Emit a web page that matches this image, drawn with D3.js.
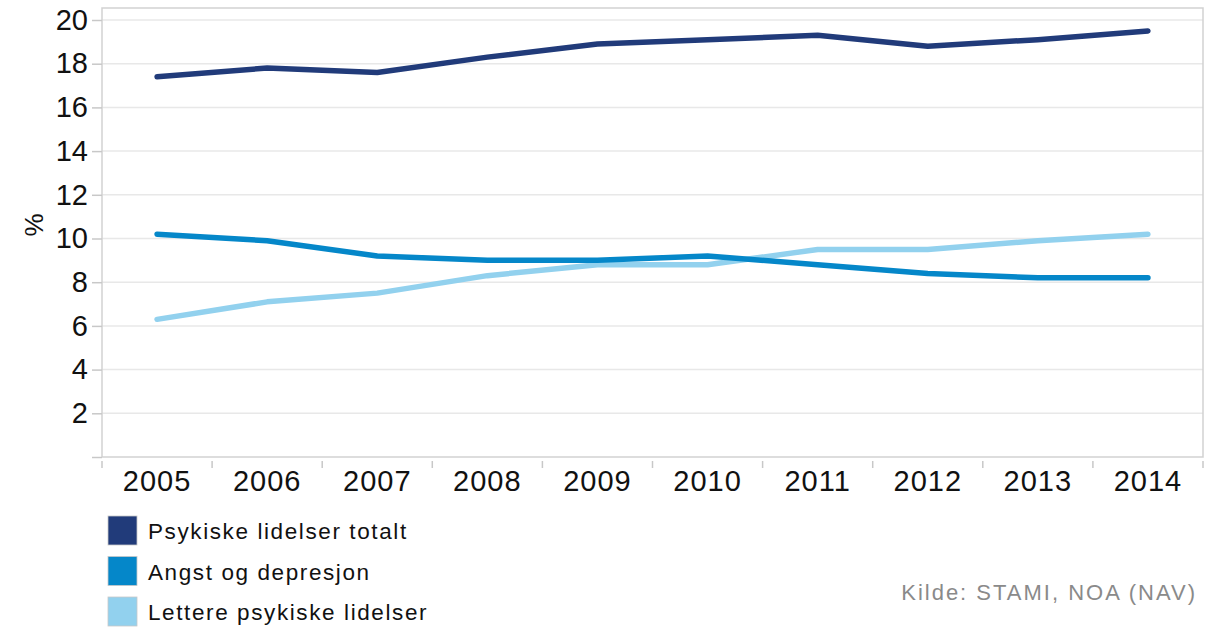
<!DOCTYPE html>
<html><head><meta charset="utf-8">
<script src="https://cdn.jsdelivr.net/npm/d3@7"></script>
<style>body{margin:0;background:#fff}svg{display:block;font-family:"Liberation Sans",Arial,sans-serif}</style>
</head><body><svg id="c" width="1206" height="627"></svg>
<script>
const years = ["2005","2006","2007","2008","2009","2010","2011","2012","2013","2014"];
const totalt = [17.4,17.8,17.6,18.3,18.9,19.1,19.3,18.8,19.1,19.5];
const angst = [10.2,9.9,9.2,9.0,9.0,9.2,8.8,8.4,8.2,8.2];
const lettere = [6.3,7.1,7.5,8.3,8.8,8.8,9.5,9.5,9.9,10.2];
const yTicks = [2,4,6,8,10,12,14,16,18,20];
const seriesNames = ["Psykiske lidelser totalt","Angst og depresjon","Lettere psykiske lidelser"];
const colors = ["#213b7a","#0587c9","#92d1ee"];
const source = "Kilde: STAMI, NOA (NAV)";

const svg = d3.select("#c");
const L=102,R=1203,T=8,B=457;
const x = d3.scaleBand().domain(years).range([L,R]);
const y = d3.scaleLinear().domain([0,20]).range([B,B-20*21.85]);

// gridlines
svg.append("g").selectAll("line").data(yTicks).join("line")
  .attr("x1",L).attr("x2",R).attr("y1",d=>y(d)).attr("y2",d=>y(d))
  .attr("stroke","#e8e8e8").attr("stroke-width",1.5);
// border
svg.append("rect").attr("x",L).attr("y",T).attr("width",R-L).attr("height",B-T)
  .attr("fill","none").attr("stroke","#d2d2d2").attr("stroke-width",1.5);

// y axis
const ya = svg.append("g").attr("transform",`translate(${L},0)`)
  .call(d3.axisLeft(y).tickValues([0].concat(yTicks)).tickSize(10).tickPadding(4).tickFormat(d=>d===0?"":d));
ya.select(".domain").remove();
ya.selectAll(".tick line").attr("stroke","#c8c8c8").attr("stroke-width",1.5);
ya.selectAll("text").attr("font-size",29).attr("fill","#111").attr("font-family","Liberation Sans, Arial, sans-serif");

// x axis
const xa = svg.append("g").attr("transform",`translate(0,${B})`)
  .call(d3.axisBottom(x).tickSize(0).tickPadding(13));
xa.select(".domain").remove();
xa.selectAll("text").attr("font-size",29).attr("fill","#111").attr("letter-spacing",1)
  .attr("font-family","Liberation Sans, Arial, sans-serif");
svg.append("g").selectAll("line").data(years.concat(["end"])).join("line")
  .attr("x1",(d,i)=>L+i*x.step()).attr("x2",(d,i)=>L+i*x.step())
  .attr("y1",B+4).attr("y2",B+11).attr("stroke","#c8c8c8").attr("stroke-width",1.5);

// y label
svg.append("text").attr("transform","translate(43,225) rotate(-90)")
  .attr("text-anchor","middle").attr("font-size",26).attr("fill","#111").text("%");

// lines
const line = d3.line().x((d,i)=>x(years[i])+x.bandwidth()/2).y(d=>y(d));
[lettere,angst,totalt].forEach((s,k)=>{
  const ci=[2,1,0][k];
  svg.append("path").datum(s).attr("d",line).attr("fill","none")
    .attr("stroke",colors[ci]).attr("stroke-width",5.5).attr("stroke-linecap","round").attr("stroke-linejoin","round");
});

// legend
const lg = svg.append("g").selectAll("g").data(seriesNames).join("g")
  .attr("transform",(d,i)=>`translate(108,${516+i*40.5})`);
lg.append("rect").attr("width",29).attr("height",29).attr("fill",(d,i)=>colors[i])
  .attr("stroke","#c8c8c8").attr("stroke-width",0.8);
lg.append("text").attr("x",40).attr("y",23).attr("font-size",22.5).attr("letter-spacing",1.6)
  .attr("fill","#111").text(d=>d);

// source
svg.append("text").attr("x",1197).attr("y",600).attr("text-anchor","end")
  .attr("font-size",22).attr("letter-spacing",2).attr("fill","#8a8a8a").text(source);
</script></body></html>
